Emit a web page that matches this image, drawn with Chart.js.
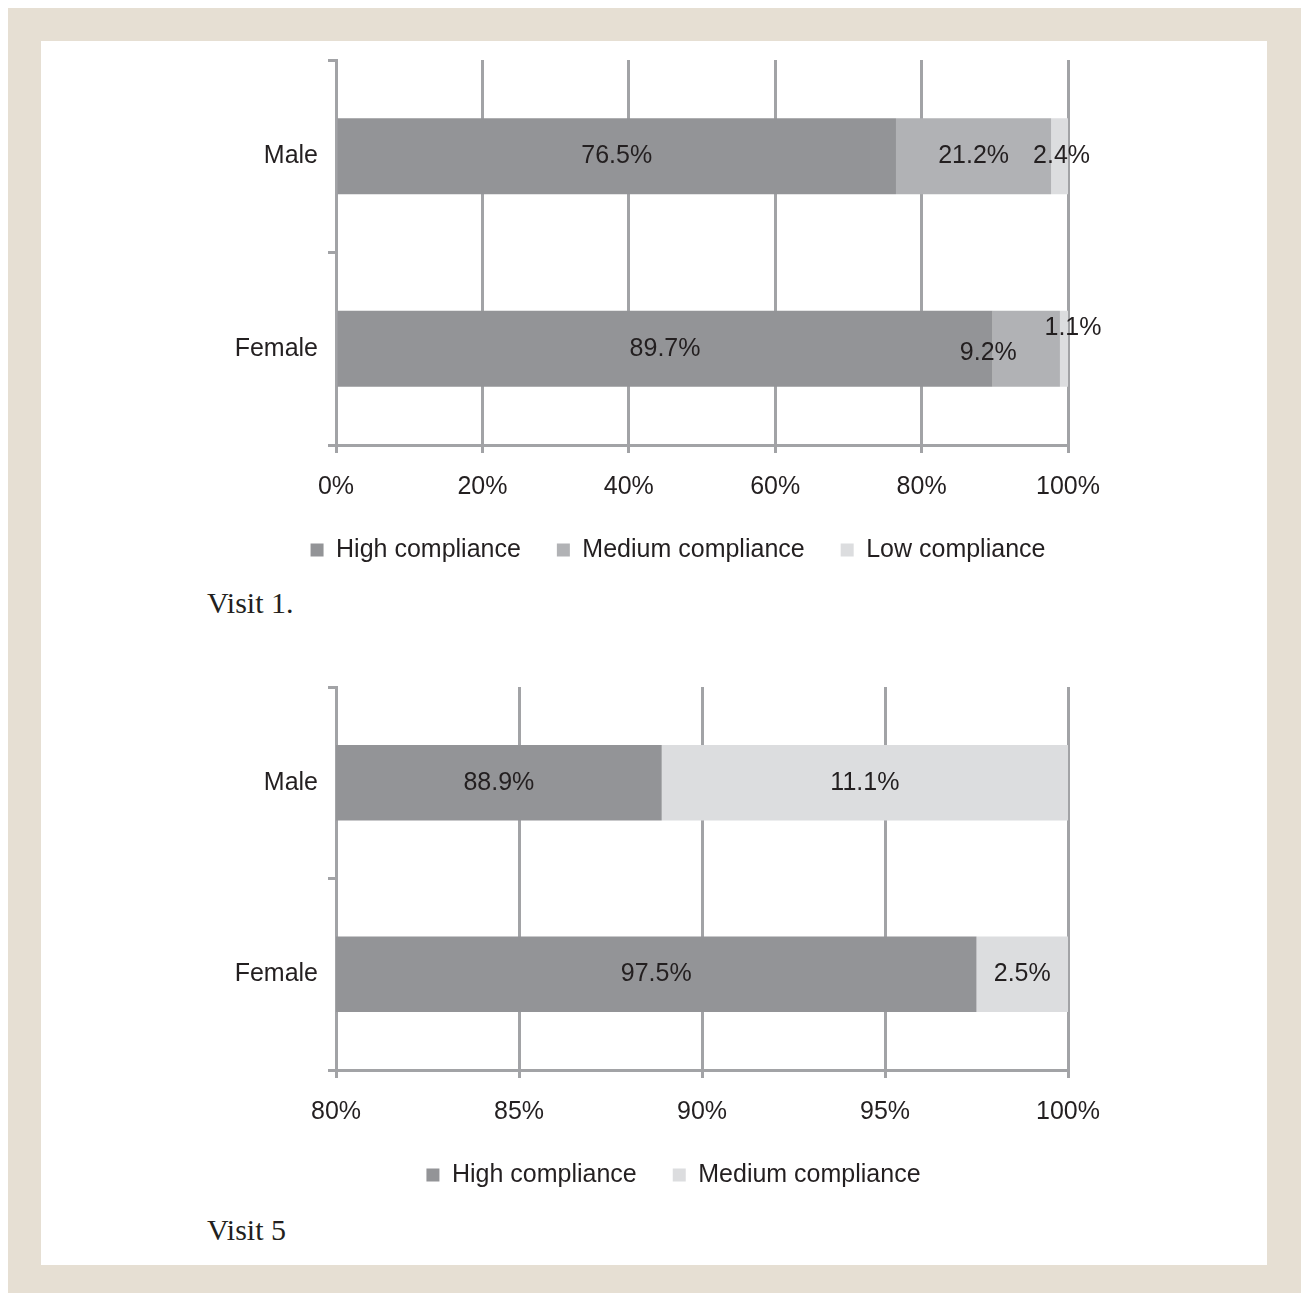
<!DOCTYPE html>
<html><head><meta charset="utf-8">
<script src="https://cdn.jsdelivr.net/npm/chart.js@4.4.1/dist/chart.umd.min.js"></script>
<style>
html,body{margin:0;padding:0;background:#fff;width:1301px;height:1293px;overflow:hidden;}
#frame{position:absolute;left:8px;top:8px;width:1293px;height:1285px;background:#e6dfd3;}
#panel{position:absolute;left:41px;top:41px;width:1226px;height:1224px;background:#fff;}
canvas{position:absolute;left:0px;}
.cap{position:absolute;left:207px;font-family:"Liberation Serif","Times New Roman",serif;font-size:30px;color:#231f20;line-height:1;white-space:nowrap;}
</style></head><body>
<div id="frame"></div><div id="panel"></div>
<canvas id="c1" width="1301" height="546" style="top:35px;width:1301px;height:546px"></canvas>
<canvas id="c2" width="1301" height="544" style="top:662px;width:1301px;height:544px"></canvas>
<div class="cap" style="top:588px">Visit 1.</div>
<div class="cap" style="top:1215px">Visit 5</div>
<script>
// ---- data ----
const categories = ['Male', 'Female'];
const seriesNamesV1 = ['High compliance', 'Medium compliance', 'Low compliance'];
const visit1High = [76.5, 89.7];
const visit1Medium = [21.2, 9.2];
const visit1Low = [2.4, 1.1];
const visit1Ticks = [0, 20, 40, 60, 80, 100];

const seriesNamesV5 = ['High compliance', 'Medium compliance'];
const visit5High = [88.9, 97.5];
const visit5Medium = [11.1, 2.5];
const visit5Ticks = [80, 85, 90, 95, 100];

// ---- styles ----
const C_HIGH = '#939497', C_MED = '#b1b2b5', C_LOW = '#dcdddf';
const GRID = '#a2a3a6';
const TXT = '#231f20';
const FONT = {family: '"Liberation Sans", Arial, Helvetica, sans-serif', size: 25};

const segLabels = {
  id: 'segLabels',
  afterDatasetsDraw(chart, args, opts) {
    const ctx = chart.ctx, area = chart.chartArea;
    ctx.save();
    ctx.font = '25px "Liberation Sans", Arial, Helvetica, sans-serif';
    ctx.fillStyle = TXT; ctx.textAlign = 'center'; ctx.textBaseline = 'middle';
    const offs = opts.offsets || {};
    chart.data.datasets.forEach((ds, di) => {
      const meta = chart.getDatasetMeta(di);
      meta.data.forEach((bar, i) => {
        const v = ds.data[i];
        const p = bar.getProps(['x', 'base', 'y'], true);
        const x0 = Math.max(Math.min(p.x, p.base), area.left);
        const x1 = Math.min(Math.max(p.x, p.base), area.right);
        const o = offs[di + '-' + i] || [0, 0];
        ctx.fillText(v.toFixed(1) + '%', (x0 + x1) / 2 + o[0], p.y + o[1]);
      });
    });
    ctx.restore();
  }
};

const legendShift = {
  id: 'legendShift',
  afterLayout(chart, args, opts) {
    const lg = chart.legend;
    if (!lg || !opts.dx) return;
    lg.left += opts.dx; lg.right += opts.dx;
  }
};

function makeChart(id, names, series, colors, ticks, offsets, legendDx) {
  const min = ticks[0], max = ticks[ticks.length - 1], step = ticks[1] - ticks[0];
  return new Chart(document.getElementById(id), {
    type: 'bar',
    data: {
      labels: categories,
      datasets: series.map((d, k) => ({
        label: names[k], data: d, backgroundColor: colors[k], borderWidth: 0,
        categoryPercentage: 1, barPercentage: 0.395
      }))
    },
    options: {
      indexAxis: 'y', responsive: false, animation: false,
      layout: {padding: {left: 150, right: 233, top: 25, bottom: 8.5}},
      scales: {
        x: {
          stacked: true, min: min, max: max,
          afterFit(s) { s.height = 56.5; },
          ticks: {stepSize: step, font: FONT, color: TXT, padding: 19, maxRotation: 0, autoSkip: false,
                  callback: v => v + '%'},
          grid: {color: GRID, lineWidth: 3, drawTicks: true, tickLength: 8},
          border: {display: true, color: GRID, width: 3}
        },
        y: {
          stacked: true,
          afterFit(s) { s.width = 186; },
          ticks: {font: FONT, color: TXT, padding: 10},
          grid: {drawOnChartArea: false, color: GRID, lineWidth: 3, drawTicks: true, tickLength: 8},
          border: {display: true, color: GRID, width: 3}
        }
      },
      plugins: {
        tooltip: {enabled: false},
        legend: {
          position: 'bottom',
          labels: {boxWidth: 13, boxHeight: 13, padding: 36, font: FONT, color: TXT}
        },
        segLabels: {offsets: offsets},
        legendShift: {dx: legendDx}
      }
    },
    plugins: [segLabels, legendShift]
  });
}

makeChart('c1', seriesNamesV1, [visit1High, visit1Medium, visit1Low], [C_HIGH, C_MED, C_LOW], visit1Ticks,
  {'1-1': [-38, 4], '2-1': [9, -21], '2-0': [2, 0]}, 69);
makeChart('c2', seriesNamesV5, [visit5High, visit5Medium], [C_HIGH, C_LOW], visit5Ticks, {}, 64.5);
</script>
</body></html>
